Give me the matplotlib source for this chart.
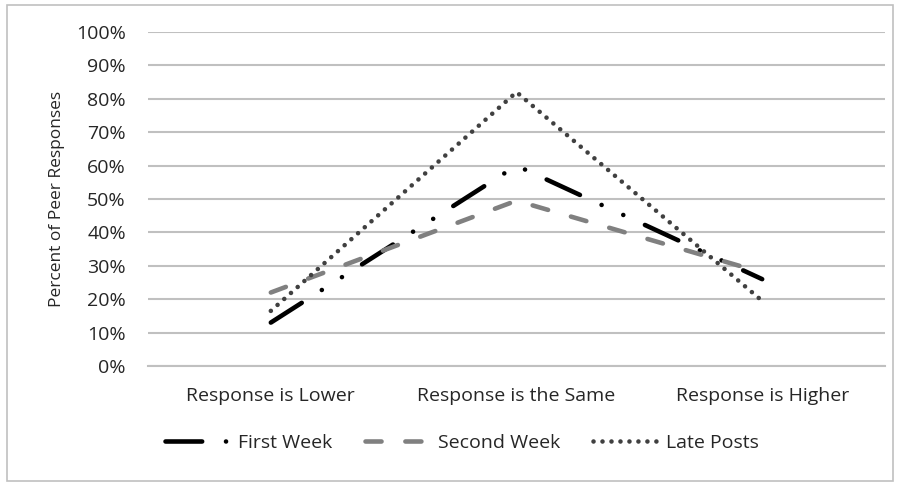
import matplotlib
matplotlib.use('Agg')
import matplotlib.pyplot as plt
from matplotlib.patches import Rectangle
from matplotlib.ticker import PercentFormatter

categories = ["Response is Lower", "Response is the Same", "Response is Higher"]
first_week = [13, 60, 26]
second_week = [22, 49.5, 28]
late_posts = [16.5, 82, 19.5]

plt.rcParams['font.family'] = ['Open Sans', 'DejaVu Sans']

W, H = 903, 483
fig = plt.figure(figsize=(W / 100, H / 100), dpi=100)
ax = fig.add_axes([148 / W, 1 - 366 / H, (885 - 148) / W, (366 - 32) / H])

lw = 3.3
x = list(range(len(categories)))
ax.plot(x, first_week, color='black', lw=lw, dash_capstyle='round',
        linestyle=(0, (8.0, 5.2, 0.01, 5.2, 0.01, 5.2)), label='First Week')
ax.plot(x, second_week, color='#808080', lw=lw, dash_capstyle='round',
        linestyle=(0, (3.5, 5.2)), label='Second Week')
ax.plot(x, late_posts, color='#404040', lw=lw, dash_capstyle='round',
        linestyle=(0, (0.01, 1.95)), label='Late Posts')

ax.set_xlim(-0.5, 2.5)
ax.set_ylim(0, 100)
ax.set_yticks(range(0, 101, 10))
ax.yaxis.set_major_formatter(PercentFormatter(decimals=0))
ax.set_xticks(x)
ax.set_xticklabels(categories)
ax.grid(True, axis='y', color='#c0c0c0', lw=1.5)
ax.set_axisbelow(True)
for s in ['top', 'right', 'left']:
    ax.spines[s].set_visible(False)
ax.spines['bottom'].set_color('#c0c0c0')
ax.spines['bottom'].set_linewidth(1.5)
ax.tick_params(length=0, labelsize=14, colors='#262626')
ax.tick_params(axis='y', pad=16)
ax.tick_params(axis='x', pad=15)
ax.set_ylabel('Percent of Peer Responses', fontsize=12.5, color='#262626', labelpad=8)

ax.legend(loc='center', bbox_to_anchor=(462 / W, 1 - 443 / H), bbox_transform=fig.transFigure,
          ncol=3, frameon=False, fontsize=14, handlelength=3.3, columnspacing=1.7,
          handletextpad=0.45, labelcolor='#262626')

fig.add_artist(Rectangle((7 / W, 1 - 481 / H), 886 / W, 476 / H, transform=fig.transFigure,
                         fill=False, edgecolor='#c0c0c0', lw=1.2))

fig.savefig('out.png', dpi=100)
